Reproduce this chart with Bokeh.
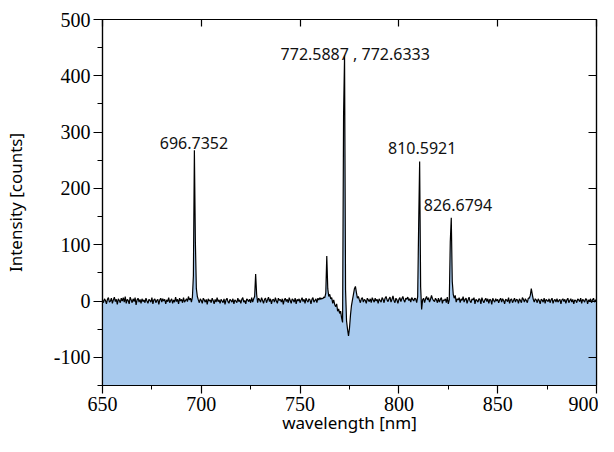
import numpy as np
from bokeh.plotting import figure
from bokeh.models import Range1d, FixedTicker, ColumnDataSource, LinearAxis
from bokeh.core.properties import value
from bokeh.embed import file_html
from bokeh.resources import INLINE

# ---- data ----
wl_start, wl_step = 650.0, 0.5
intensity = [
    2, -3, 4, 1, -5, 3, 6, -2, 0, 5, -4, 2, 7, -1, 3, -6, 4, 1, -3, 5,          # 650
    0, 6, -2, 8, -4, 3, 1, -5, 7, 2, -3, 4, -1, 6, -7, 2, 5, -2, 3, -4,         # 660
    4, -1, 2, -3, 5, 0, -4, 3, 1, -2, 6, -5, 2, 4, -3, 1, 3, -6, 2, 5,          # 670
    -2, 4, 0, 3, -5, 2, -1, 6, -3, 1, 4, -4, 2, -2, 7, -1, 3, -5, 5, 0,         # 680
    3, -3, 6, -2, 1, 4, -1, 8, 2, 5, -2, 7, 45, 268, 105, 22, 8, 2, -3, 4,      # 690
    1, -4, 5, 2, -2, 3, -6, 4, 0, 2, -3, 5, 1, -5, 3, -2, 6, -1, 2, -4,         # 700
    3, 0, -3, 4, -6, 2, 5, -1, -4, 3, 1, -2, 4, -5, 2, 0, -3, 5, -1, 2,         # 710
    -4, 3, 6, -2, 1, -5, 4, 2, -1, 3, -3, 6, -2, 4, 8, 48, 12, -3, 5, 2,        # 720
    -2, 6, 1, -4, 3, 5, -3, 2, 7, -1, 4, -5, 2, 3, -2, 6, 0, -4, 5, 1,          # 730
    3, -2, 4, -6, 2, 5, -1, 3, -3, 6, 1, -4, 4, 2, -2, 5, -5, 3, 0, 4,          # 740
    -3, 2, 6, -1, 3, -4, 5, 1, -2, 4, 2, -5, 3, 6, -2, 1, 4, -3, 5, 2,          # 750
    6, 3, 5, 4, 7, 6, 14, 80, 22, 8, 12, 4, 6, -4, 2, -6, -10, -5, -18, -14,    # 760
    -22, -18, -30, -38, 330, 436, 20, -35, -50, -62, -48, -25, -8, 2, 12, 22, 26, 15, 5, 8,  # 770
    2, -3, 4, 6, -2, 3, 1, -4, 5, 2, -1, 4, -3, 6, 2, -2, 5, 0, 3, -4,          # 780
    4, 1, -2, 6, 3, -3, 5, 8, 2, -1, 4, 7, -2, 3, 9, 1, -3, 5, 2, -4,           # 790
    3, 6, -1, 4, 8, 2, -2, 5, 3, 7, 1, 4, -2, 6, 3, 0, 5, 4, -3, 8,             # 800
    134, 248, 25, -15, 2, 5, -3, 4, 8, 2, 6, -2, 3, 10, 4, 1, -1, 5, 2, -3,     # 810
    5, -2, 3, 6, -4, 2, 1, 4, -3, 7, -5, 2, 105, 148, 35, 12, 5, 10, -2, 4,     # 820
    2, 6, -3, 4, 1, 8, -2, 3, 5, -4, 2, 7, 0, -3, 4, 2, 6, -5, 3, 1,            # 830
    -2, 4, 3, -5, 6, 1, -3, 2, 5, -1, 4, -4, 3, 2, -6, 5, 1, -2, 4, 0,          # 840
    3, -3, 2, 5, -2, 4, 1, -5, 3, 2, -1, 6, -4, 2, 4, -3, 1, 5, -2, 3,          # 850
    2, -4, 4, 1, -3, 6, 3, -2, 4, 1, -3, 5, 5, 10, 22, 12, 3, -2, 4, 2,         # 860
    -3, 4, 1, -5, 3, 2, -2, 5, -4, 3, 1, -1, 4, -3, 2, 5, -4, 1, 3, -2,         # 870
    4, -2, 1, 3, -5, 2, 4, -1, 3, -4, 2, 5, -3, 1, 4, -2, 3, -5, 2, 1,          # 880
    -3, 4, 2, -1, 5, -4, 3, 1, -2, 4, 3, -5, 2, 0, 4, -3, 2, 5, -2, 1,          # 890
    3,                                                                          # 900
]
wavelength = [wl_start + i * wl_step for i in range(len(intensity))]

peak_labels = ["696.7352", "772.5887 , 772.6333", "810.5921", "826.6794"]
label_x = [696.3, 777.9, 811.8, 829.9]
label_y = [280, 439, 271, 170]

x_ticks = [650, 700, 750, 800, 850, 900]
x_minor = [675, 725, 775, 825, 875]
y_ticks = [-100, 0, 100, 200, 300, 400, 500]
y_minor = [-150, -50, 50, 150, 250, 350, 450]

X_MIN, X_MAX, Y_MIN, Y_MAX = 650, 900, -150, 500

# ---- figure ----
p = figure(width=598, height=436,
           x_range=Range1d(X_MIN, X_MAX), y_range=Range1d(Y_MIN, Y_MAX),
           output_backend="svg", toolbar_location=None,
           min_border_left=101, min_border_right=2,
           min_border_top=19, min_border_bottom=51)
p.xgrid.visible = False
p.ygrid.visible = False
p.outline_line_color = "black"
p.outline_line_width = 1.2
p.outline_line_alpha = 1
p.background_fill_color = "white"
p.border_fill_color = "white"

src = ColumnDataSource(dict(x=wavelength, y=intensity))
p.varea(x="x", y1=Y_MIN, y2="y", source=src, fill_color="#A8CAEE", fill_alpha=1)
p.line(x="x", y="y", source=src, line_color="black", line_width=1.2)

lab = ColumnDataSource(dict(x=label_x, y=label_y, t=peak_labels))
p.text(x="x", y="y", text="t", source=lab, text_font=value("Noto Sans"),
       text_font_size=value("16px"), text_color="#111111",
       text_align="center", text_baseline="alphabetic")

# bottom axis
xa = p.xaxis[0]
xa.ticker = FixedTicker(ticks=x_ticks, minor_ticks=x_minor)
xa.major_tick_out = 8
xa.major_tick_in = 0
xa.minor_tick_out = 4
xa.minor_tick_in = 0
xa.axis_line_color = "black"
xa.axis_line_width = 1.2
xa.major_tick_line_color = "black"
xa.major_tick_line_width = 1.2
xa.minor_tick_line_color = "black"
xa.major_label_text_font = "Liberation Serif"
xa.major_label_text_font_size = "20px"
xa.major_label_text_color = "black"
xa.major_label_standoff = 3
xa.axis_label = "wavelength [nm]"
xa.axis_label_text_font = "Noto Sans"
xa.axis_label_text_font_style = "normal"
xa.axis_label_text_font_size = "17px"
xa.axis_label_text_color = "black"
xa.axis_label_standoff = -3

# left axis
ya = p.yaxis[0]
ya.ticker = FixedTicker(ticks=y_ticks, minor_ticks=y_minor)
ya.major_label_overrides = {-100: "-100"}
ya.major_tick_out = 9
ya.major_tick_in = 0
ya.minor_tick_out = 5
ya.minor_tick_in = 0
ya.axis_line_color = "black"
ya.axis_line_width = 1.2
ya.major_tick_line_color = "black"
ya.major_tick_line_width = 1.2
ya.minor_tick_line_color = "black"
ya.major_label_text_font = "Liberation Serif"
ya.major_label_text_font_size = "20px"
ya.major_label_text_color = "black"
ya.major_label_standoff = 3
ya.axis_label = "Intensity [counts]"
ya.axis_label_text_font = "Noto Sans"
ya.axis_label_text_font_style = "normal"
ya.axis_label_text_font_size = "17px"
ya.axis_label_text_color = "black"
ya.axis_label_standoff = 24

# top and right axes: inward ticks only, no tick labels
ta = LinearAxis(ticker=FixedTicker(ticks=x_ticks, minor_ticks=[]),
                major_label_overrides={t: "" for t in x_ticks})
ta.major_tick_in = 7
ta.major_tick_out = 0
ta.minor_tick_in = 0
ta.minor_tick_out = 0
ta.major_label_standoff = 0
ta.major_label_text_font_size = "1px"
ta.axis_line_color = "black"
ta.axis_line_width = 1.2
ta.major_tick_line_color = "black"
ta.major_tick_line_width = 1.2
p.add_layout(ta, "above")

ra = LinearAxis(ticker=FixedTicker(ticks=y_ticks, minor_ticks=[]),
                major_label_overrides={t: "" for t in y_ticks})
ra.major_tick_in = 8
ra.major_tick_out = 0
ra.minor_tick_in = 0
ra.minor_tick_out = 0
ra.major_label_standoff = 0
ra.major_label_text_font_size = "1px"
ra.axis_line_color = "black"
ra.axis_line_width = 1.2
ra.major_tick_line_color = "black"
ra.major_tick_line_width = 1.2
p.add_layout(ra, "right")

open("out.html", "w").write(file_html(p, INLINE))
